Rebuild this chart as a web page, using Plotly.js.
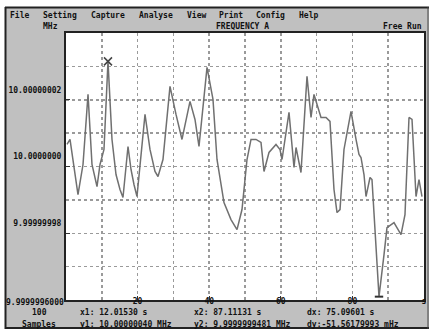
<!DOCTYPE html>
<html><head><meta charset="utf-8">
<script src="https://cdn.plot.ly/plotly-3.0.1.min.js"></script>
<style>html,body{margin:0;padding:0;background:#fff;}#chart{width:429px;height:329px;}</style>
</head><body><div id="chart"></div>
<script>
// time (s)
const timeS = [0.28,1.12,3.35,4.75,6.15,7.26,8.66,9.50,10.61,11.73,12.85,13.97,15.08,15.92,17.32,18.16,18.99,19.83,22.07,23.46,24.86,25.70,27.09,29.05,30.73,32.40,34.64,36.03,37.15,39.39,41.06,42.18,44.13,46.09,47.77,49.16,50.56,51.68,53.07,54.47,55.31,56.70,58.66,59.78,60.34,62.29,63.69,64.25,65.64,67.32,68.44,69.27,71.23,72.63,73.74,74.86,75.70,76.54,77.65,79.61,81.01,81.84,82.40,83.24,83.80,84.92,85.47,87.43,88.83,89.66,91.62,93.58,94.69,95.81,96.65,97.77,98.60,99.44];
// frequency offset from 10 MHz (mHz)
const freqOffset = [6.6,8.1,-8.4,0.6,21.6,0.6,-6.0,0.6,5.1,31.5,8.1,-2.4,-6.9,-9.3,6.0,-0.9,-5.4,-9.0,15.6,5.1,-1.5,-3.0,2.1,24.0,15.6,8.1,19.5,14.1,6.0,29.7,20.1,2.1,-10.8,-15.9,-18.9,-12.9,2.1,8.1,8.1,7.2,-1.5,4.2,6.6,5.1,2.1,16.2,-0.3,5.7,-1.8,27.0,14.7,21.6,14.7,14.7,13.5,-6.9,-13.8,-12.9,5.1,16.5,8.1,3.6,2.7,-2.4,-9.0,-3.3,-3.9,-39.0,-26.4,-18.3,-16.8,-20.4,-14.4,14.7,14.1,-9.0,-3.9,-9.0];
const cursorX = [11.73, 87.43];
const cursorY = [31.5, -39.0];
const xTickVals = [20, 40, 60, 80, 100];
const xTickText = ["20", "40", "60", "80", "s"];
const xMinorVals = [10, 30, 50, 70, 90];
const yTickVals = [20, 0, -20];
const yTickText = ["10.00000002", "10.0000000", "9.99999998"];
const yMinorVals = [30, 10, -10, -30];
const yBottomLabel = "9.9999996000";
const menuItems = ["File", "Setting", "Capture", "Analyse", "View", "Print", "Config", "Help"];
const menuPx = [8, 41, 89, 137, 185, 217, 254, 297];
const statusRow1 = [["100", 30], ["x1: 12.01530 s", 78], ["x2: 87.11131 s", 192], ["dx: 75.09601 s", 305]];
const statusRow2 = [["Samples", 20], ["y1: 10.00000040 MHz", 78], ["y2: 9.9999999481 MHz", 192], ["dy:-51.56179993 mHz", 305]];

const W = 429, H = 329, L = 66, R = 5, T = 33, B = 29;
const px = x => (x - L) / (W - L - R);
const py = y => (H - B - y) / (H - T - B);
const mono = {family: "DejaVu Sans Mono, Liberation Mono, monospace", size: 8, color: "#111", weight: "bold"};

const ann = [];
menuItems.forEach((m, i) => ann.push({text: "<b>" + m + "</b>", x: px(menuPx[i]), y: py(15), xref: "paper", yref: "paper", xanchor: "left", yanchor: "middle", showarrow: false, font: mono}));
ann.push({text: "<b>MHz</b>", x: px(41), y: py(27), xref: "paper", yref: "paper", xanchor: "left", yanchor: "middle", showarrow: false, font: mono});
ann.push({text: "<b>FREQUENCY A</b>", x: px(214), y: py(27), xref: "paper", yref: "paper", xanchor: "left", yanchor: "middle", showarrow: false, font: mono});
ann.push({text: "<b>Free Run</b>", x: px(381), y: py(27), xref: "paper", yref: "paper", xanchor: "left", yanchor: "middle", showarrow: false, font: mono});
ann.push({text: "<b>" + yBottomLabel + "</b>", x: px(66), y: py(302), xref: "paper", yref: "paper", xanchor: "right", yanchor: "middle", showarrow: false, font: mono});
statusRow1.forEach(s => ann.push({text: "<b>" + s[0] + "</b>", x: px(s[1]), y: py(312), xref: "paper", yref: "paper", xanchor: "left", yanchor: "middle", showarrow: false, font: mono}));
statusRow2.forEach(s => ann.push({text: "<b>" + s[0] + "</b>", x: px(s[1]), y: py(324), xref: "paper", yref: "paper", xanchor: "left", yanchor: "middle", showarrow: false, font: mono}));

const shapes = [
  {type: "rect", xref: "paper", yref: "paper", x0: px(-2), x1: px(W + 2), y0: py(-2), y1: py(7), fillcolor: "#ffffff", line: {width: 0}, layer: "below"},
  {type: "rect", xref: "paper", yref: "paper", x0: px(-2), x1: px(5), y0: py(-2), y1: py(H + 2), fillcolor: "#ffffff", line: {width: 0}, layer: "below"},
  {type: "line", xref: "paper", yref: "paper", x0: px(5), x1: px(W), y0: py(7.5), y1: py(7.5), line: {color: "#222", width: 2}},
  {type: "line", xref: "paper", yref: "paper", x0: px(5.5), x1: px(5.5), y0: py(7), y1: py(H), line: {color: "#222", width: 2}},
  {type: "line", xref: "paper", yref: "paper", x0: px(5), x1: px(W), y0: py(328), y1: py(328), line: {color: "#222", width: 2}},
  {type: "line", xref: "paper", yref: "paper", x0: px(428), x1: px(428), y0: py(7), y1: py(H), line: {color: "#444", width: 1}}
];

const gridCol = "#9a9a9a";
const data = [
  {x: timeS, y: freqOffset, type: "scatter", mode: "lines", line: {color: "#707070", width: 1.5}, hoverinfo: "skip"},
  {x: [cursorX[0]], y: [cursorY[0]], type: "scatter", mode: "markers", marker: {symbol: "x-thin-open", size: 8, color: "#444", line: {color: "#444", width: 1.5}}, hoverinfo: "skip"},
  {x: [cursorX[1]], y: [cursorY[1]], type: "scatter", mode: "markers", marker: {symbol: "line-ew-open", size: 6, color: "#333", line: {color: "#333", width: 2}}, hoverinfo: "skip"}
];

const layout = {
  width: W, height: H,
  margin: {l: L, r: R, t: T, b: B, pad: 0},
  paper_bgcolor: "#c0c0c0", plot_bgcolor: "#ffffff",
  showlegend: false,
  xaxis: {range: [0, 100], tickmode: "array", tickvals: xTickVals, ticktext: xTickText,
    showgrid: true, gridcolor: gridCol, griddash: "dot", gridwidth: 1.5,
    minor: {tickmode: "array", tickvals: xMinorVals, showgrid: true, gridcolor: gridCol, griddash: "dot", gridwidth: 1.5},
    ticks: "inside", ticklen: 4, tickcolor: "#333", showline: true, mirror: true, linecolor: "#222", linewidth: 2,
    zeroline: false, tickfont: mono, ticklabelstandoff: -8},
  yaxis: {range: [-40, 40], tickmode: "array", tickvals: yTickVals, ticktext: yTickText,
    showgrid: true, gridcolor: gridCol, griddash: "dot", gridwidth: 1.5,
    minor: {tickmode: "array", tickvals: yMinorVals, showgrid: true, gridcolor: gridCol, griddash: "dot", gridwidth: 1.5},
    ticks: "inside", ticklen: 4, tickcolor: "#333", showline: true, mirror: true, linecolor: "#222", linewidth: 2,
    zeroline: false, tickfont: mono, ticklabelshift: -10, ticklabelstandoff: 1},
  annotations: ann,
  shapes: shapes
};
Plotly.newPlot("chart", data, layout, {displayModeBar: false, staticPlot: true});
</script></body></html>
